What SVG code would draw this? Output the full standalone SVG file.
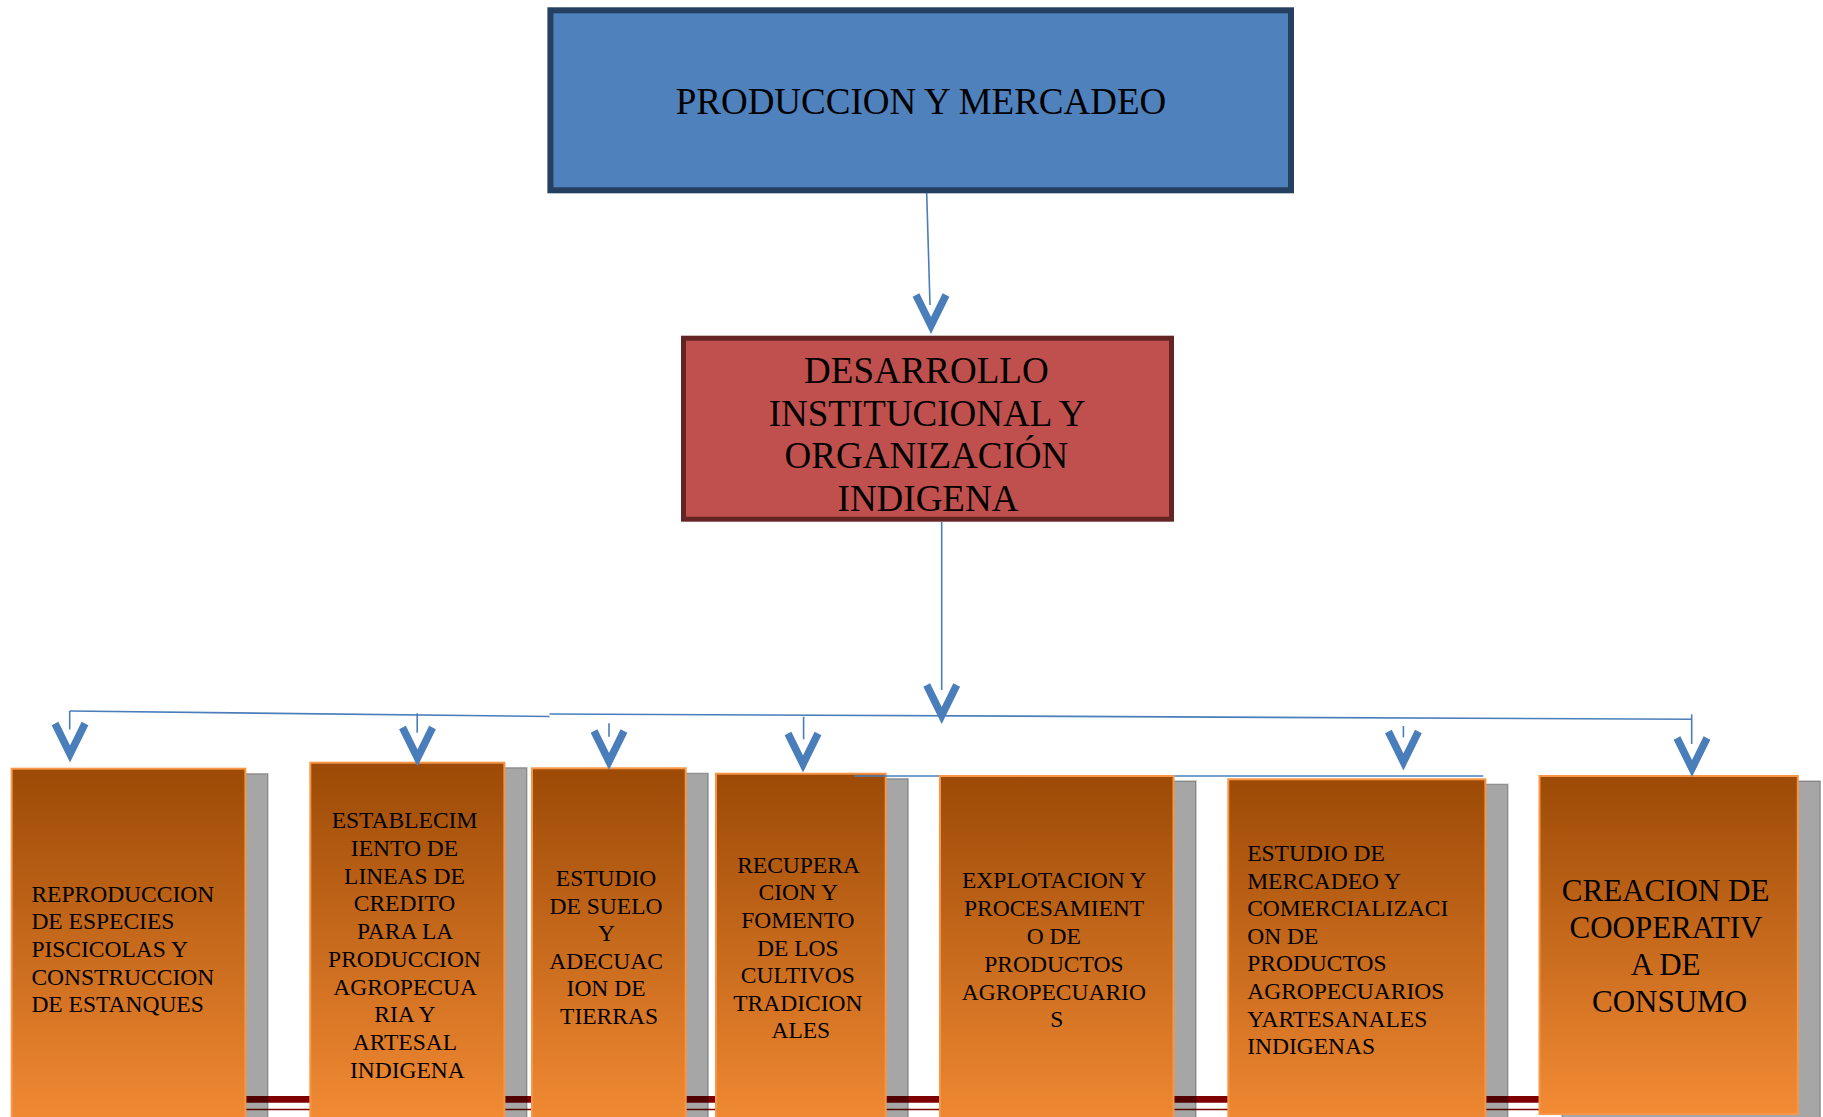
<svg xmlns="http://www.w3.org/2000/svg" xmlns:xlink="http://www.w3.org/1999/xlink" width="1823" height="1117" viewBox="0 0 1823 1117">
<style>
.t{font-family:"Liberation Serif","Times New Roman",serif;fill:#000}
.big{font-size:37px}
.sm{font-size:23.5px}
.md{font-size:31px}
.sh{fill:#000;fill-opacity:0.35;stroke:#000;stroke-opacity:0.25;stroke-width:1.5}
.ob{fill:url(#og);stroke:#F79646;stroke-width:2}
.cn{fill:none;stroke:#4A7EBB;stroke-width:1.6}
.vh{fill:none;stroke:#4A7EBB;stroke-width:7.5;stroke-miterlimit:10}
</style>
<defs>
<linearGradient id="og" x1="0" y1="0" x2="0" y2="1">
<stop offset="0" stop-color="#9C4A06"/>
<stop offset="1" stop-color="#F38B34"/>
</linearGradient>
<path id="vh" class="vh" d="M-15,-39 L0,-8.5 L15,-39"/>
</defs>
<rect width="1823" height="1117" fill="#fff"/>

<g id="baseline-bars">
<line x1="100" y1="1099.4" x2="1700" y2="1099.4" stroke="#7F0000" stroke-width="6.6"/>
<line x1="100" y1="1109.5" x2="1700" y2="1109.5" stroke="#7F0000" stroke-width="1.3"/>
</g>

<g id="node-produccion">
<rect x="550.4" y="10.3" width="740.6" height="180" fill="#4F81BD" stroke="#243F60" stroke-width="6"/>
<text class="t big" x="921" y="114" text-anchor="middle">PRODUCCION Y MERCADEO</text>
</g>

<g id="node-desarrollo">
<rect x="683.5" y="338.2" width="488" height="181" fill="#C0504D" stroke="#632523" stroke-width="5"/>
<text class="t big" text-anchor="middle">
<tspan x="931" y="383.3">DESARROLLO</tspan>
<tspan x="931" y="426">INSTITUCIONAL Y</tspan>
<tspan x="931" y="468.4">ORGANIZACIÓN</tspan>
<tspan x="928" y="510.8">INDIGENA</tspan>
</text>
</g>

<g id="node-reproduccion">
<rect class="sh" x="34.2" y="773.7" width="233.7" height="360"/>
<rect class="ob" x="11.7" y="768.7" width="233.7" height="360"/>
<text class="t sm">
<tspan x="31.4" y="901.7">REPRODUCCION</tspan>
<tspan x="31.4" y="929.2">DE ESPECIES</tspan>
<tspan x="31.4" y="956.8">PISCICOLAS Y</tspan>
<tspan x="31.4" y="984.6">CONSTRUCCION</tspan>
<tspan x="31.4" y="1012.3">DE ESTANQUES</tspan>
</text>
</g>

<g id="node-credito">
<rect class="sh" x="332.8" y="767.7" width="194.1" height="360"/>
<rect class="ob" x="310.3" y="762.7" width="194.1" height="360"/>
<text class="t sm" text-anchor="middle">
<tspan x="407.4" y="828.3">ESTABLECIM</tspan>
<tspan x="407.4" y="856">IENTO DE</tspan>
<tspan x="407.4" y="883.7">LINEAS DE</tspan>
<tspan x="407.4" y="911.4">CREDITO</tspan>
<tspan x="407.4" y="939.1">PARA LA</tspan>
<tspan x="407.4" y="966.8">PRODUCCION</tspan>
<tspan x="407.4" y="994.5">AGROPECUA</tspan>
<tspan x="407.4" y="1022.2">RIA Y</tspan>
<tspan x="407.4" y="1049.9">ARTESAL</tspan>
<tspan x="407.4" y="1077.6">INDIGENA</tspan>
</text>
</g>

<g id="node-suelo">
<rect class="sh" x="554.5" y="773.3" width="153.7" height="360"/>
<rect class="ob" x="532" y="768.3" width="153.7" height="360"/>
<text class="t sm" text-anchor="middle">
<tspan x="609" y="886">ESTUDIO</tspan>
<tspan x="609" y="913.5">DE SUELO</tspan>
<tspan x="609" y="941">Y</tspan>
<tspan x="609" y="968.5">ADECUAC</tspan>
<tspan x="609" y="996">ION DE</tspan>
<tspan x="609" y="1023.5">TIERRAS</tspan>
</text>
</g>

<g id="node-cultivos">
<rect class="sh" x="738.5" y="778.7" width="169.7" height="360"/>
<rect class="ob" x="716" y="773.7" width="169.7" height="360"/>
<text class="t sm" text-anchor="middle">
<tspan x="800.8" y="872.7">RECUPERA</tspan>
<tspan x="800.8" y="900.3">CION Y</tspan>
<tspan x="800.8" y="927.9">FOMENTO</tspan>
<tspan x="800.8" y="955.5">DE LOS</tspan>
<tspan x="800.8" y="983.1">CULTIVOS</tspan>
<tspan x="800.8" y="1010.7">TRADICION</tspan>
<tspan x="800.8" y="1038.3">ALES</tspan>
</text>
</g>

<g id="stray-connector-a">
<line class="cn" x1="854.3" y1="776" x2="939" y2="776"/>
</g>

<g id="node-explotacion">
<rect class="sh" x="962.5" y="781" width="233.5" height="360"/>
<rect class="ob" x="940" y="776" width="233.5" height="360"/>
<text class="t sm" text-anchor="middle">
<tspan x="1056.8" y="888.3">EXPLOTACION Y</tspan>
<tspan x="1056.8" y="916.1">PROCESAMIENT</tspan>
<tspan x="1056.8" y="943.9">O DE</tspan>
<tspan x="1056.8" y="971.7">PRODUCTOS</tspan>
<tspan x="1056.8" y="999.5">AGROPECUARIO</tspan>
<tspan x="1056.8" y="1027.3">S</tspan>
</text>
</g>

<g id="node-mercadeo">
<rect class="sh" x="1250.8" y="784.3" width="257.1" height="360"/>
<rect class="ob" x="1228.3" y="779.3" width="257.1" height="360"/>
<text class="t sm">
<tspan x="1247.2" y="861">ESTUDIO DE</tspan>
<tspan x="1247.2" y="888.6">MERCADEO Y</tspan>
<tspan x="1247.2" y="916.2">COMERCIALIZACI</tspan>
<tspan x="1247.2" y="943.8">ON DE</tspan>
<tspan x="1247.2" y="971.4">PRODUCTOS</tspan>
<tspan x="1247.2" y="999">AGROPECUARIOS</tspan>
<tspan x="1247.2" y="1026.6">YARTESANALES</tspan>
<tspan x="1247.2" y="1054.2">INDIGENAS</tspan>
</text>
</g>

<g id="node-cooperativa">
<rect class="sh" x="1562" y="781" width="258.3" height="339"/>
<rect class="ob" x="1539.5" y="776" width="258.3" height="338"/>
<text class="t md" text-anchor="middle">
<tspan x="1669.5" y="900.7">CREACION DE</tspan>
<tspan x="1669.5" y="937.7">COOPERATIV</tspan>
<tspan x="1669.5" y="974.7">A DE</tspan>
<tspan x="1669.5" y="1011.7">CONSUMO</tspan>
</text>
</g>

<g id="connectors">
<line class="cn" x1="926.7" y1="193" x2="930" y2="305"/>
<use xlink:href="#vh" href="#vh" x="931" y="334"/>
<line class="cn" x1="941.7" y1="522" x2="941.7" y2="690"/>
<use xlink:href="#vh" href="#vh" x="941.7" y="724"/>
<line class="cn" x1="69.7" y1="711" x2="549.5" y2="716.5"/>
<line class="cn" x1="549.5" y1="714" x2="1692" y2="719.3"/>
<line class="cn" x1="69.7" y1="711" x2="69.7" y2="729.5"/>
<line class="cn" x1="417.2" y1="713.3" x2="417.2" y2="732.7"/>
<line class="cn" x1="609" y1="723.3" x2="609" y2="736.7"/>
<line class="cn" x1="803.6" y1="716.7" x2="803.6" y2="739.3"/>
<line class="cn" x1="1403.4" y1="726" x2="1403.4" y2="737.3"/>
<line class="cn" x1="1691.7" y1="714.3" x2="1691.7" y2="744"/>
<line class="cn" x1="1174.5" y1="776" x2="1483.3" y2="776"/>
<use xlink:href="#vh" href="#vh" x="70" y="762.5"/>
<use xlink:href="#vh" href="#vh" x="417.5" y="766.5"/>
<use xlink:href="#vh" href="#vh" x="609" y="770"/>
<use xlink:href="#vh" href="#vh" x="803" y="772.5"/>
<use xlink:href="#vh" href="#vh" x="1403.4" y="770.5"/>
<use xlink:href="#vh" href="#vh" x="1692" y="777"/>
</g>
</svg>
